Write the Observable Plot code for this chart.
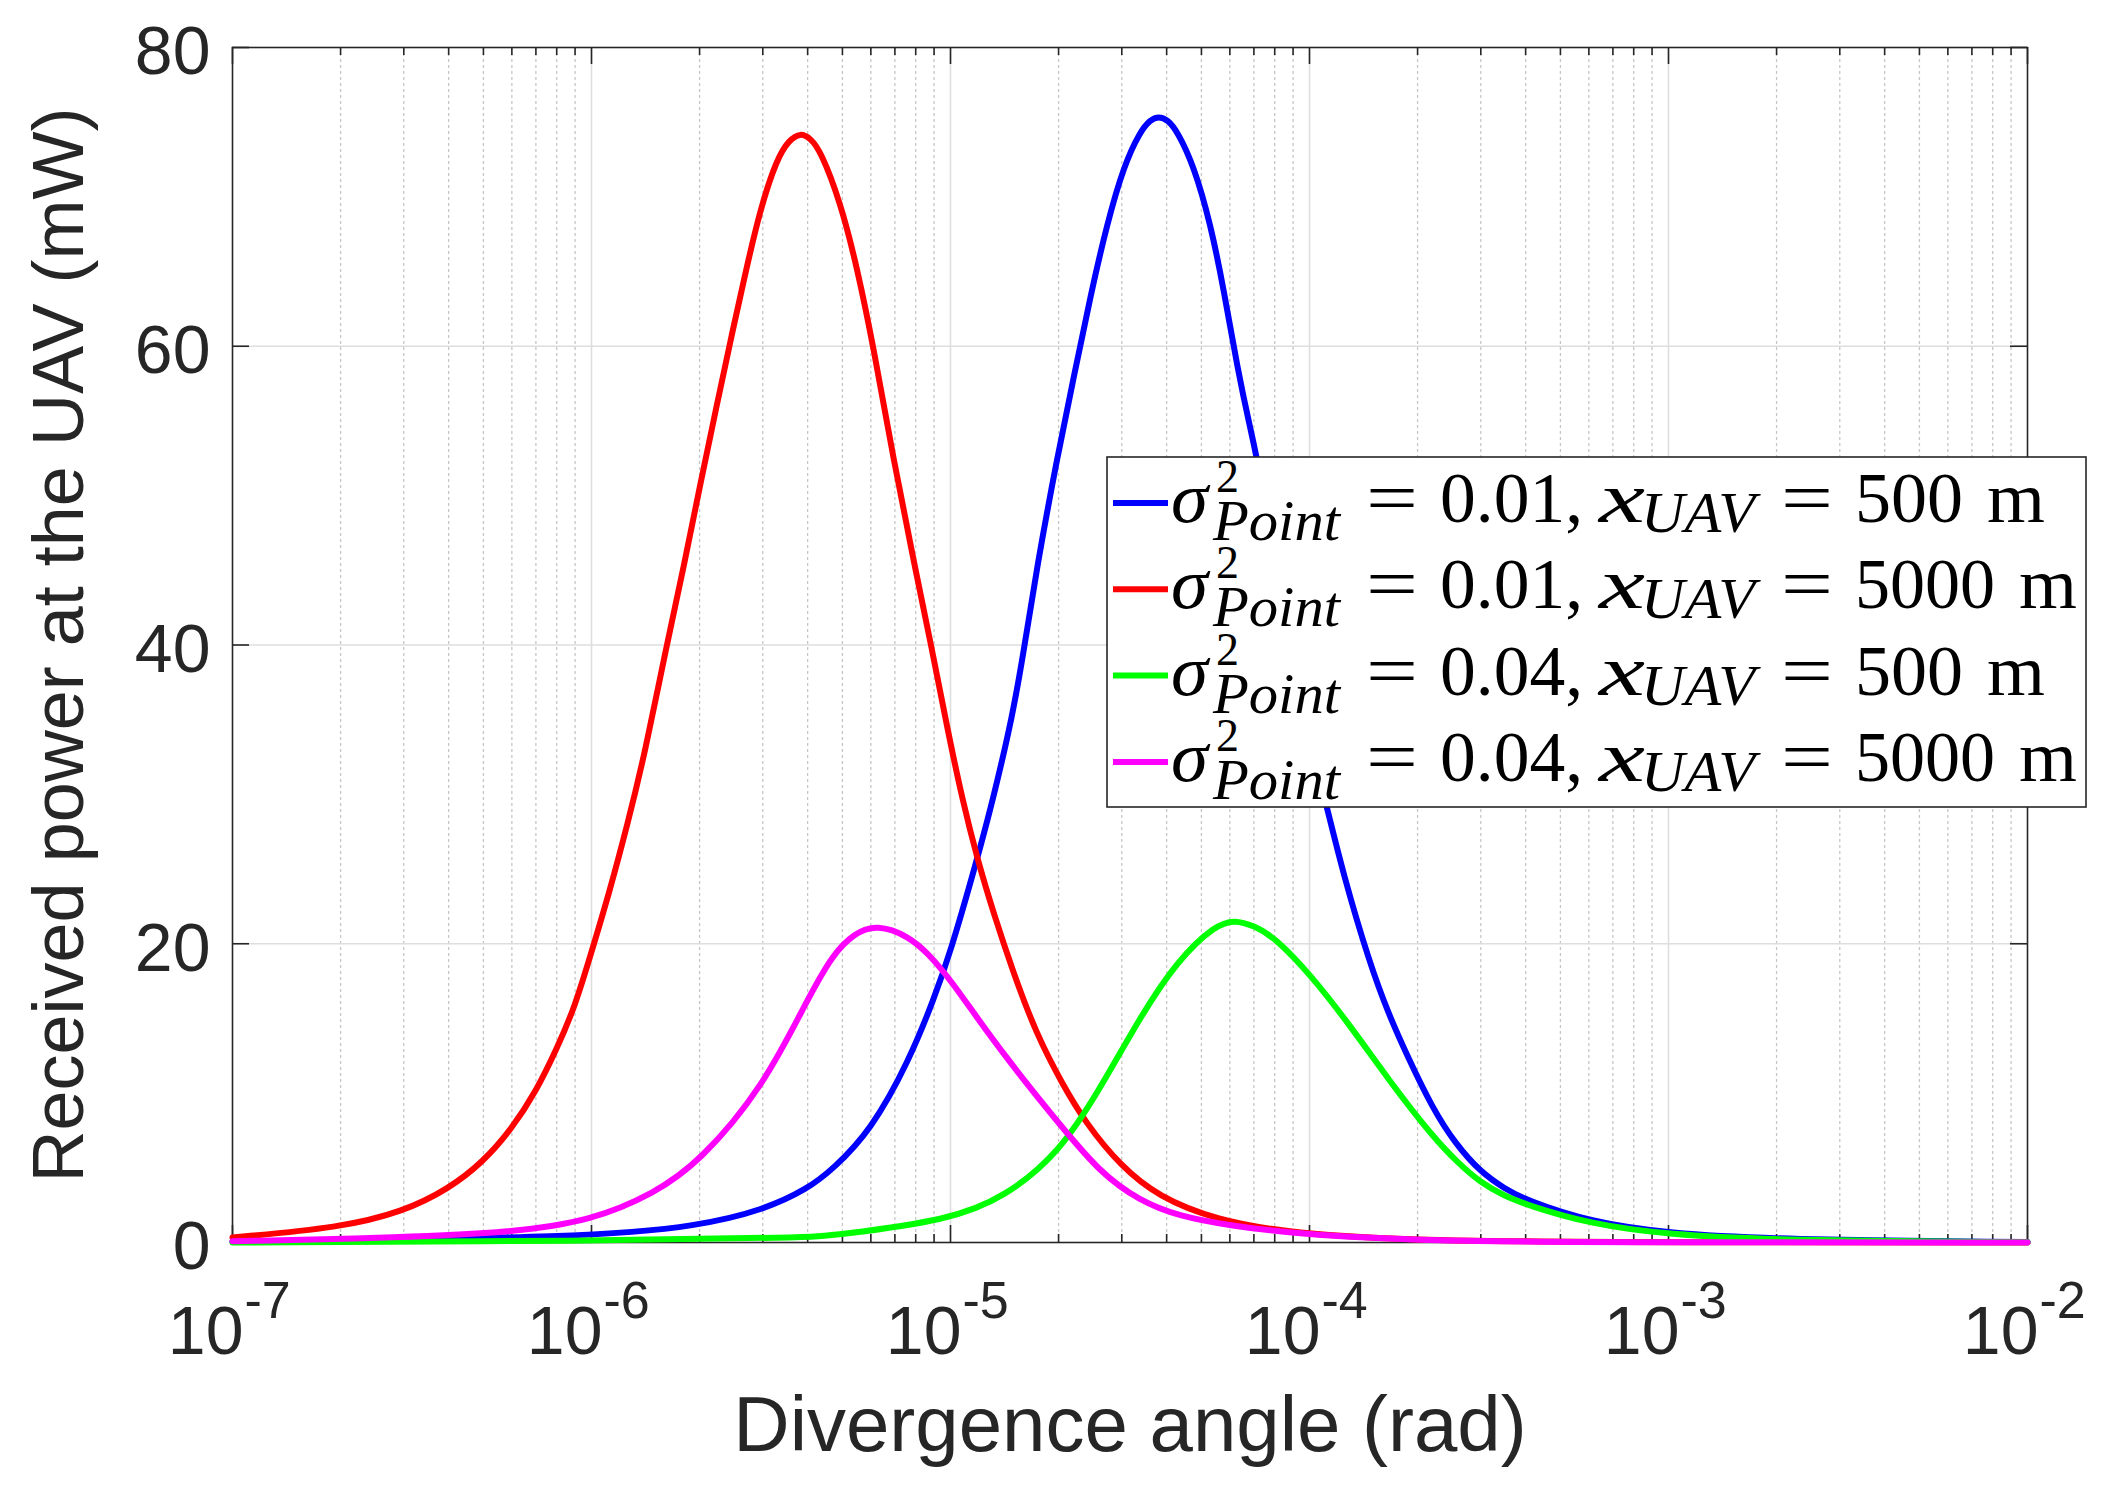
<!DOCTYPE html>
<html>
<head>
<meta charset="utf-8">
<script src="https://cdn.jsdelivr.net/npm/d3@7"></script>
<script src="https://cdn.jsdelivr.net/npm/@observablehq/plot@0.6"></script>
<style>
  html, body { margin: 0; padding: 0; background: #ffffff; }
  #chart { position: relative; width: 2117px; height: 1488px; }
  #chart > svg { display: block; }
  #legend { position: absolute; left: 0; top: 0; pointer-events: none; }
</style>
</head>
<body>
<div id="chart"></div>
<script>
// ---------------- data ----------------
const blueAngle = [1e-7, 1e-6, 2e-6, 3e-6, 4e-6, 4.7e-6, 6.0e-6, 7.67e-6, 9.0e-6, 1e-5, 1.18e-5, 1.32e-5, 1.49e-5, 1.6e-5, 1.74e-5, 1.98e-5, 2.21e-5, 2.46e-5, 2.73e-5, 3.04e-5, 3.38e-5, 3.6e-5, 3.8e-5, 4.03e-5, 4.28e-5, 4.76e-5, 5.3e-5, 5.77e-5, 6.29e-5, 6.85e-5, 7.15e-5, 7.9e-5, 8.85e-5, 1.0e-4, 1.12e-4, 1.24e-4, 1.47e-4, 1.66e-4, 1.88e-4, 2.2e-4, 2.55e-4, 3.0e-4, 3.5e-4, 4.03e-4, 6.04e-4, 1e-3, 2e-3, 1e-2];
const bluePower = [0.05, 0.34, 1.12, 2.16, 3.59, 4.9, 7.49, 12.17, 16.33, 19.45, 25.44, 29.86, 35.3, 39.6, 45.2, 52.5, 58.05, 63.5, 68.2, 72.1, 74.4, 75.15, 75.4, 75.15, 74.4, 72.1, 68.2, 63.8, 58.6, 54.4, 52.5, 46.4, 40.6, 33.6, 29.1, 24.7, 18.7, 15.3, 12.4, 9.0, 6.6, 4.7, 3.6, 2.81, 1.38, 0.6, 0.2, 0.03];

const redAngle = [1e-7, 2e-7, 3e-7, 4e-7, 5e-7, 6e-7, 7e-7, 8e-7, 9e-7, 1e-6, 1.12e-6, 1.26e-6, 1.41e-6, 1.61e-6, 1.81e-6, 2.01e-6, 2.24e-6, 2.44e-6, 2.66e-6, 2.95e-6, 3.29e-6, 3.55e-6, 3.82e-6, 4.08e-6, 4.34e-6, 4.93e-6, 5.49e-6, 6.11e-6, 6.95e-6, 7.9e-6, 8.85e-6, 9.8e-6, 1.08e-5, 1.19e-5, 1.32e-5, 1.49e-5, 1.73e-5, 2.05e-5, 2.38e-5, 2.97e-5, 3.79e-5, 5.48e-5, 9e-5, 2e-4, 1e-3, 1e-2];
const redPower = [0.34, 0.99, 2.08, 3.59, 5.41, 7.62, 10.09, 12.95, 15.81, 19.45, 23.4, 28.0, 32.8, 39.7, 45.3, 50.8, 56.2, 60.4, 64.5, 69.2, 72.6, 73.8, 74.3, 73.9, 73.1, 69.7, 65.3, 59.9, 52.3, 45.6, 39.9, 34.4, 29.6, 25.6, 22.0, 18.2, 14.0, 10.6, 8.0, 5.15, 3.07, 1.51, 0.6, 0.1, 0.01, 0.0];

const greenAngle = [1e-7, 1e-6, 4e-6, 4.7e-6, 1e-5, 1.42e-5, 2e-5, 2.62e-5, 3.36e-5, 4.3e-5, 5.48e-5, 6.2e-5, 7.0e-5, 7.94e-5, 1.01e-4, 1.3e-4, 1.66e-4, 2.2e-4, 2.6e-4, 3e-4, 3.5e-4, 4e-4, 6e-4, 1e-3, 2e-3, 1e-2];
const greenPower = [0.0, 0.1, 0.34, 0.47, 1.5, 3.07, 5.93, 10.35, 15.03, 18.93, 21.27, 21.6, 21.2, 20.5, 17.9, 14.5, 10.9, 7.1, 5.3, 4.0, 3.1, 2.55, 1.25, 0.52, 0.15, 0.01];

const magentaAngle = [1e-7, 3e-7, 6e-7, 1e-6, 1.5e-6, 2e-6, 3e-6, 4e-6, 4.7e-6, 5.4e-6, 6.22e-6, 7.67e-6, 8.7e-6, 1e-5, 1.25e-5, 1.6e-5, 2e-5, 2.62e-5, 3.36e-5, 4.3e-5, 6.06e-5, 8.97e-5, 2.02e-4, 1e-3, 1e-2];
const magentaPower = [0.08, 0.34, 0.68, 1.46, 3.3, 5.4, 10.35, 16.3, 19.3, 20.7, 21.3, 20.5, 19.3, 17.6, 14.25, 10.87, 8.0, 4.63, 2.81, 1.77, 1.12, 0.6, 0.08, 0.01, 0.0];

const seriesColors = ["#0000ff", "#ff0000", "#00ff00", "#ff00ff"];
const legendSigma = ["0.01", "0.01", "0.04", "0.04"];
const legendDistance = ["500", "5000", "500", "5000"];

const xMajorTicks = [1e-7, 1e-6, 1e-5, 1e-4, 1e-3, 1e-2];
const xTickExponents = ["-7", "-6", "-5", "-4", "-3", "-2"];
const yTicks = [0, 20, 40, 60, 80];
const xLabel = "Divergence angle (rad)";
const yLabel = "Received power at the UAV (mW)";

// ---------------- build tables ----------------
const toRows = (xs, ys) => xs.map((x, i) => ({angle: x, power: ys[i]}));
const series = [
  toRows(blueAngle, bluePower),
  toRows(redAngle, redPower),
  toRows(greenAngle, greenPower),
  toRows(magentaAngle, magentaPower)
];
const xMinorTicks = xMajorTicks.slice(0, -1).flatMap(d => [2, 3, 4, 5, 6, 7, 8, 9].map(k => +(k * d).toPrecision(3)));

// ---------------- layout ----------------
const W = 2117, H = 1488;
const mL = 232, mR = 90, mT = 47, mB = 246;
const frameW = W - mL - mR, frameH = H - mT - mB;
const ink = "#262626";
const sans = "'Liberation Sans', Arial, Helvetica, sans-serif";

const chart = Plot.plot({
  width: W,
  height: H,
  marginLeft: mL,
  marginRight: mR,
  marginTop: mT,
  marginBottom: mB,
  style: {background: "#ffffff", fontFamily: sans, color: ink, overflow: "visible"},
  x: {type: "log", domain: [1e-7, 1e-2], axis: null},
  y: {domain: [0, 80], axis: null},
  marks: [
    // grid
    Plot.ruleX(xMinorTicks, {stroke: "#c6c6c6", strokeWidth: 1.3, strokeDasharray: "3,3"}),
    Plot.ruleX(xMajorTicks.slice(1, -1), {stroke: "#dedede", strokeWidth: 1.6}),
    Plot.ruleY(yTicks.slice(1, -1), {stroke: "#dedede", strokeWidth: 1.6}),
    // ticks (inward, on all four sides)
    Plot.ruleX(xMajorTicks, {insetTop: frameH - 17, stroke: ink, strokeWidth: 1.6}),
    Plot.ruleX(xMajorTicks, {insetBottom: frameH - 17, stroke: ink, strokeWidth: 1.6}),
    Plot.ruleX(xMinorTicks, {insetTop: frameH - 8, stroke: ink, strokeWidth: 1.6}),
    Plot.ruleX(xMinorTicks, {insetBottom: frameH - 8, stroke: ink, strokeWidth: 1.6}),
    Plot.ruleY(yTicks, {insetRight: frameW - 17, stroke: ink, strokeWidth: 1.6}),
    Plot.ruleY(yTicks, {insetLeft: frameW - 17, stroke: ink, strokeWidth: 1.6}),
    Plot.frame({stroke: ink, strokeWidth: 1.6}),
    // curves
    ...series.map((rows, i) => Plot.line(rows, {
      x: "angle", y: "power", stroke: seriesColors[i], strokeWidth: 6, curve: "basis"
    })),
    // y tick labels
    Plot.text(yTicks, {
      y: d => d, frameAnchor: "left", dx: -22, dy: 5, textAnchor: "end",
      text: d => String(d), fontSize: 68, fill: ink
    }),
    // x tick labels: base and exponent
    Plot.text(xMajorTicks, {
      x: d => d, frameAnchor: "bottom", dx: 11, dy: 111, textAnchor: "end", lineAnchor: "bottom",
      text: () => "10", fontSize: 68, fill: ink
    }),
    Plot.text(xMajorTicks, {
      x: d => d, frameAnchor: "bottom", dx: 12, dy: 75, textAnchor: "start", lineAnchor: "bottom",
      text: (d, i) => xTickExponents[i], fontSize: 52, fill: ink
    }),
    // axis labels
    Plot.text([xLabel], {
      frameAnchor: "bottom", dy: 208, lineAnchor: "bottom", text: d => d, fontSize: 78, fill: ink
    }),
    Plot.text([yLabel], {
      frameAnchor: "left", dx: -150, rotate: -90, textAnchor: "middle", lineAnchor: "bottom",
      text: d => d, fontSize: 72, fill: ink
    })
  ]
});
document.getElementById("chart").appendChild(chart);

// ---------------- legend (overlay inside the axes) ----------------
const serif = "'Liberation Serif', 'Times New Roman', serif";
const leg = d3.select("#chart").append("svg")
  .attr("id", "legend").attr("width", W).attr("height", H);
const box = {x: 1107, y: 457, w: 979, h: 350};
leg.append("rect")
  .attr("x", box.x).attr("y", box.y).attr("width", box.w).attr("height", box.h)
  .attr("fill", "#ffffff").attr("stroke", ink).attr("stroke-width", 1.6);

const rowStep = 86.3, firstBase = 522;
// one text block for the whole (mathematical) legend
const legText = leg.append("text")
  .attr("font-family", serif).attr("fill", "#000").attr("font-size", 72);
seriesColors.forEach((c, i) => {
  const b = firstBase + i * rowStep;
  leg.append("line").attr("x1", 1113).attr("x2", 1168).attr("y1", b - 19).attr("y2", b - 19)
    .attr("stroke", c).attr("stroke-width", 6);
  const dw = legendDistance[i].length === 3 ? 108 : 140;
  const parts = [
    ["\u03c3", 1171, b, 72, true, 37],
    ["2", 1216, b - 30, 46, false, 23],
    ["Point", 1213, b + 18, 56, true, 127],
    ["=", 1366, b, 72, false, 52],
    [legendSigma[i] + ",", 1440, b, 72, false, 143],
    ["x", 1599, b, 72, true, 46],
    ["UAV", 1641, b + 10, 56, true, 114],
    ["=", 1781, b, 72, false, 52],
    [legendDistance[i], 1855, b, 72, false, dw],
    ["m", 1855 + dw + 24, b, 72, false, 58]
  ];
  parts.forEach(([txt, x, y, size, italic, width]) => {
    legText.append("tspan").attr("x", x).attr("y", y)
      .attr("font-size", size).attr("font-style", italic ? "italic" : "normal")
      .attr("textLength", width).attr("lengthAdjust", "spacingAndGlyphs")
      .text(txt);
  });
});
</script>
</body>
</html>
